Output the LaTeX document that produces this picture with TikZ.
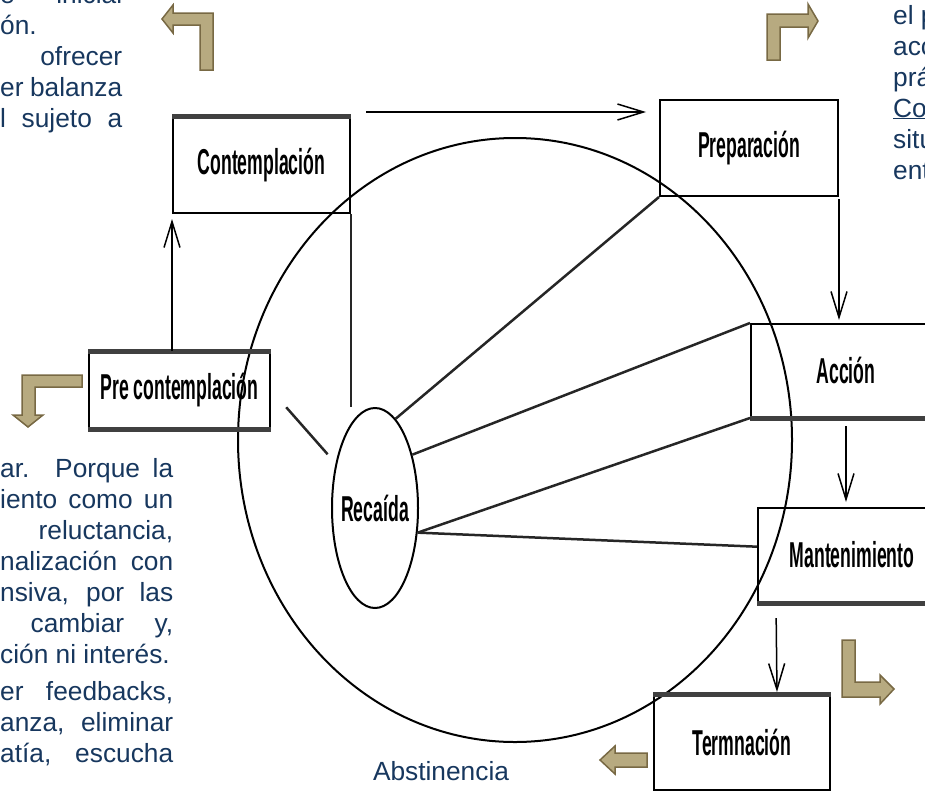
\documentclass[tikz,border=0pt]{standalone}
\usepackage{graphicx}
\usepackage{fontspec}
\setmainfont{Liberation Sans}
\usetikzlibrary{shapes.geometric,arrows.meta,calc}
\definecolor{navy}{RGB}{23,55,94}
\definecolor{khaki}{RGB}{183,170,128}
\definecolor{khakiline}{RGB}{120,105,68}
\newcommand\lbl[1]{\scalebox{0.49}[1]{\fontsize{36}{40}\selectfont\bfseries #1}}
\tikzset{
  stage/.style={draw, line width=2pt, inner sep=0pt},
  rim/.style={line width=5pt, draw=black!75},
  spoke/.style={line width=2.5pt, draw=black!85},
  flow/.style={-{Straight Barb[length=26pt,width=16pt]}, line width=1.5pt},
  bent/.style={fill=khaki, draw=khakiline, line width=1.5pt},
  txt/.style={font=\fontsize{26.3}{31}\selectfont, text=navy, inner sep=0pt, anchor=base west},
}
\begin{document}
\begin{tikzpicture}[x=1pt,y=-1pt]
\useasboundingbox (0,0) rectangle (925,795);
\clip (0,0) rectangle (925,795);

% big cycle
\draw[line width=2pt] (515,440) ellipse [x radius=277, y radius=302];

% stages
\node[stage, minimum width=177pt, minimum height=96pt] (contemp) at (261.5,165) {\lbl{Contemplación}};
\node[stage, minimum width=181pt, minimum height=76pt] (precontemp) at (179.5,390) {\lbl{Pre contemplación}};
\node[stage, minimum width=178pt, minimum height=96pt] (prep) at (749,148) {\lbl{Preparación}};
\node[stage, minimum width=190pt, minimum height=93pt] (accion) at (846,370.5) {\lbl{Acción}};
\node[stage, minimum width=188pt, minimum height=94pt] (mant) at (852,555) {\lbl{Mantenimiento}};
\node[stage, minimum width=176pt, minimum height=95pt] (term) at (742,742.5) {\lbl{Termnación}};
\node[stage, ellipse, minimum width=86pt, minimum height=200pt] (recaida) at (375,508) {\makebox[0pt]{\lbl{Recaída}}};

\draw[rim] (contemp.north west) -- (contemp.north east);
\draw[rim] (precontemp.north west) -- (precontemp.north east);
\draw[rim] (precontemp.south west) -- (precontemp.south east);
\draw[rim] (accion.south west) -- (accion.south east);
\draw[rim] (mant.south west) -- (mant.south east);
\draw[rim] (term.north west) -- (term.north east);

% arrows between stages
\coordinate (cp) at ($(contemp.north east)+(15,-4)$);
\draw[flow, shorten >=5pt] (contemp.west |- precontemp.north) -- (contemp.south west);
\draw[flow, shorten >=13pt] (cp) -- (cp -| prep.west);
\draw[flow, shorten <=2pt, shorten >=3pt] (prep.south east) -- (prep.south east |- accion.north);
\draw[flow, shorten <=8pt, shorten >=5pt] (accion.south) -- (accion.south |- mant.north);
\draw[flow, shorten <=15pt, shorten >=2pt] ($(mant.south west)+(19,0)$) -- ($(term.north)+(35,0)$);

% recaida
\draw[spoke, shorten <=12pt, shorten >=23pt] (recaida) -- (precontemp.east);
\draw[spoke] (contemp.south east) -- (contemp.south east |- recaida.north);
\draw[spoke] (recaida.77) -- (prep.south west);
\draw[spoke] (recaida.55) -- (accion.north west);
\draw[spoke] (recaida.-30) -- (accion.south west);
\draw[spoke] (recaida.-30) -- (mant.175);

% bent arrows
\draw[bent] (213,70) -- (213,13) -- (173,13) -- (173,5) -- (162,19) -- (173,33) -- (173,25) -- (200,25) -- (200,70) -- cycle;
\draw[bent] (767,60) -- (767,14) -- (808,14) -- (808,4) -- (818,21) -- (808,38) -- (808,27) -- (780,27) -- (780,60) -- cycle;
\draw[bent] (82,375) -- (22,375) -- (22,415) -- (13,415) -- (28,427) -- (43,415) -- (35,415) -- (35,387) -- (82,387) -- cycle;
\draw[bent] (842,640) -- (842,697) -- (880,697) -- (880,704) -- (894,689) -- (880,675) -- (880,682) -- (855,682) -- (855,640) -- cycle;
\draw[bent] (647,753) -- (615,753) -- (615,746) -- (600,760) -- (615,774) -- (615,767) -- (647,767) -- cycle;

% texts
\foreach \y/\t [count=\i] in {3/{e inicial}, 34/{ón.\hfill}, 65/{\hfill ofrecer}, 96/{er balanza}, 127/{l sujeto a}}
  \node[txt] (tl\i) at (0,\y) {\makebox[122pt][s]{\t}};
\foreach \y/\t [count=\i] in {477/{ar. Porque la}, 508/{iento como un}, 539/{\hfill reluctancia,}, 570/{nalización con}, 601/{nsiva, por las}, 632/{\hfill cambiar\hfill y,}, 663/{ción ni interés.\hfill}, 700/{er feedbacks,}, 731/{anza, eliminar}, 762/{atía, escucha}}
  \node[txt] (bl\i) at (0,\y) {\makebox[173pt][s]{\t}};
\foreach \y/\t [count=\i] in {24/{el p}, 55/{acc}, 86/{prá}, 117/{\underline{Co}}, 148/{situ}, 179/{ent}}
  \node[txt] (tr\i) at (893,\y) {\t};
\node[txt, anchor=base] (abst) at (441,780) {Abstinencia};

\end{tikzpicture}
\end{document}
